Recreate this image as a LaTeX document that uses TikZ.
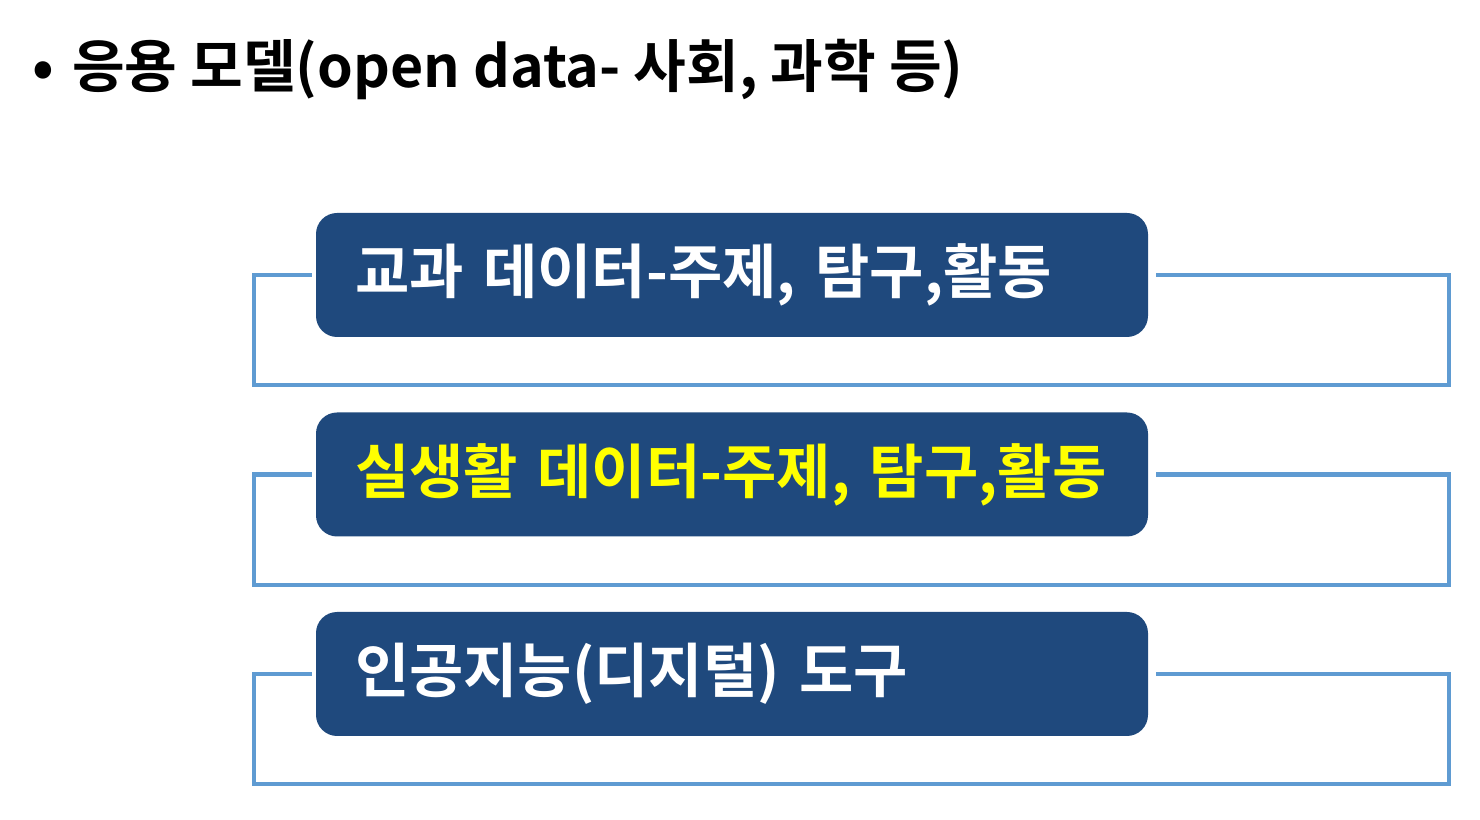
\documentclass[tikz,border=0pt]{standalone}
\usepackage{fontspec}
\setmainfont{Noto Sans CJK KR}[BoldFont={* Bold}]
\definecolor{boxblue}{HTML}{1F497D}
\definecolor{linkblue}{HTML}{5F9BD2}
\definecolor{hiyellow}{HTML}{FFFF00}
\begin{document}
\begin{tikzpicture}[
	topic/.style={ fill=boxblue, rounded corners=6pt, text width=7.54cm, inner xsep=0.39cm, inner ysep=0pt, minimum height=1.24cm, align=left, text=white, font=\fontsize{16.8}{19}\selectfont\bfseries },
	bracket/.style={ draw=linkblue, line width=1.2pt }
]
\useasboundingbox (0,0) rectangle (14.8,8.2);

\node[anchor=base west, font=\fontsize{16.3}{19}\selectfont\bfseries] (title) at (0.2,7.32) {•\hspace{0.18cm}응용 모델(open data- 사회, 과학 등)};

\node (b1) at (7.32,5.45) [topic] {교과 데이터-주제, 탐구,활동};
\node (b2) at (7.32,3.455) [topic,text=hiyellow] {실생활 데이터-주제, 탐구,활동};
\node (b3) at (7.32,1.46) [topic] {인공지능(디지털) 도구};

\draw[bracket,shorten <=1pt] (b1.west) -- (2.54,5.45) -- (2.54,4.35) -- (14.49,4.35) -- (14.49,5.45) -- ([xshift=2pt]b1.east);
\draw[bracket,shorten <=1pt] (b2.west) -- (2.54,3.455) -- (2.54,2.35) -- (14.49,2.35) -- (14.49,3.455) -- ([xshift=2pt]b2.east);
\draw[bracket,shorten <=1pt] (b3.west) -- (2.54,1.46) -- (2.54,0.36) -- (14.49,0.36) -- (14.49,1.46) -- ([xshift=2pt]b3.east);

\end{tikzpicture}
\end{document}
